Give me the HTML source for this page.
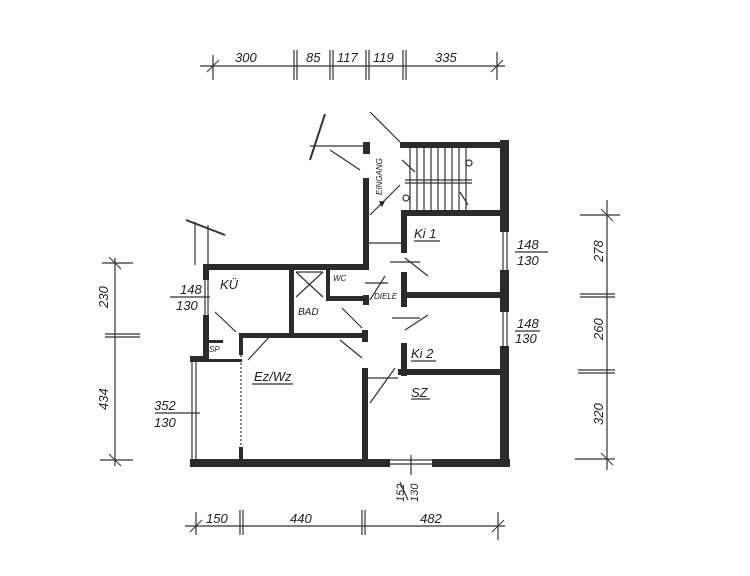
<!DOCTYPE html>
<html><head><meta charset="utf-8"><style>
html,body{margin:0;padding:0;background:#fff;}
svg{display:block;}
text{font-family:"Liberation Sans",sans-serif;font-style:italic;fill:#222;}
</style></head><body>
<svg width="750" height="576" viewBox="0 0 750 576" xmlns="http://www.w3.org/2000/svg">
<g fill="#2b2b2b">
<rect x="190" y="459" width="200" height="8"/>
<rect x="432" y="459" width="78" height="8"/>
<rect x="500" y="140" width="9" height="92"/>
<rect x="500" y="270" width="9" height="42"/>
<rect x="500" y="346" width="9" height="121"/>
<rect x="400" y="142" width="105" height="6"/>
<rect x="363" y="142" width="7" height="12"/>
<rect x="363" y="178" width="6" height="92"/>
<rect x="363" y="295" width="6" height="10"/>
<rect x="362" y="330" width="6" height="12"/>
<rect x="362" y="368" width="6" height="98"/>
<rect x="401" y="210" width="100" height="6"/>
<rect x="401" y="213" width="6" height="40"/>
<rect x="401" y="272" width="6" height="35"/>
<rect x="401" y="343" width="6" height="33"/>
<rect x="404" y="292" width="97" height="6"/>
<rect x="398" y="369" width="103" height="6"/>
<rect x="205" y="264" width="162" height="6"/>
<rect x="203" y="264" width="6" height="16"/>
<rect x="203" y="315" width="6" height="47"/>
<rect x="190" y="356" width="19" height="6"/>
<rect x="289" y="267" width="5" height="70"/>
<rect x="326" y="267" width="4" height="34"/>
<rect x="326" y="296" width="41" height="5"/>
<rect x="239" y="333" width="128" height="5"/>
<rect x="239" y="333" width="4" height="22"/>
<rect x="239" y="447" width="4" height="14"/>
<rect x="209" y="340" width="14" height="3"/>
<rect x="207" y="359" width="35" height="3"/>
</g>
<g stroke="#333" stroke-width="1.2" fill="none">
<line x1="503" y1="232" x2="503" y2="270"/><line x1="507" y1="232" x2="507" y2="270"/>
<line x1="503" y1="312" x2="503" y2="346"/><line x1="507" y1="312" x2="507" y2="346"/>
<line x1="205" y1="280" x2="205" y2="315"/><line x1="208" y1="280" x2="208" y2="315"/>
<line x1="192" y1="362" x2="192" y2="460"/><line x1="196" y1="362" x2="196" y2="460"/>
<line x1="390" y1="460" x2="432" y2="460"/><line x1="390" y1="464" x2="432" y2="464"/>
<line x1="411" y1="455" x2="411" y2="475"/>
<line x1="241" y1="355" x2="241" y2="447" stroke-dasharray="2 2"/>
<line x1="405" y1="180" x2="472" y2="180"/>
<line x1="405" y1="183" x2="472" y2="183"/>
<g>
<line x1="410" y1="148" x2="410" y2="210"/><line x1="417" y1="148" x2="417" y2="210"/>
<line x1="424" y1="148" x2="424" y2="210"/><line x1="431" y1="148" x2="431" y2="210"/>
<line x1="438" y1="148" x2="438" y2="210"/><line x1="445" y1="148" x2="445" y2="210"/>
<line x1="452" y1="148" x2="452" y2="210"/><line x1="459" y1="148" x2="459" y2="210"/>
<line x1="466" y1="148" x2="466" y2="210"/>
</g>
<circle cx="469" cy="163" r="3"/><circle cx="406" cy="198" r="3"/>
<line x1="402" y1="160" x2="415" y2="172"/><line x1="460" y1="192" x2="468" y2="205"/>
<line x1="296" y1="272" x2="323" y2="297"/><line x1="323" y1="272" x2="296" y2="297"/>
<line x1="296" y1="272" x2="323" y2="272"/>
<line x1="370" y1="215" x2="400" y2="185"/>
<line x1="366" y1="243" x2="401" y2="243"/>
<line x1="405" y1="258" x2="428" y2="276"/><line x1="390" y1="262" x2="420" y2="262"/>
<line x1="370" y1="300" x2="385" y2="276"/><line x1="365" y1="283" x2="388" y2="283"/>
<line x1="405" y1="330" x2="428" y2="315"/><line x1="392" y1="318" x2="420" y2="318"/>
<line x1="370" y1="403" x2="395" y2="368"/><line x1="368" y1="378" x2="398" y2="378"/>
<line x1="342" y1="308" x2="362" y2="328"/><line x1="340" y1="340" x2="362" y2="358"/>
<line x1="215" y1="312" x2="236" y2="332"/><line x1="248" y1="360" x2="272" y2="334"/>
<line x1="330" y1="150" x2="360" y2="170"/><line x1="310" y1="146" x2="365" y2="146"/>
<line x1="370" y1="112" x2="400" y2="142"/><line x1="325" y1="114" x2="310" y2="160" stroke-width="2"/>
<line x1="186" y1="220" x2="225" y2="235" stroke-width="2"/>
<line x1="195" y1="222" x2="195" y2="265"/><line x1="208" y1="225" x2="208" y2="265"/>
<line x1="200" y1="66" x2="505" y2="66"/>
<line x1="213" y1="55" x2="213" y2="80"/><line x1="294" y1="50" x2="294" y2="80"/><line x1="297" y1="50" x2="297" y2="80"/>
<line x1="330" y1="50" x2="330" y2="80"/><line x1="333" y1="50" x2="333" y2="80"/>
<line x1="366" y1="50" x2="366" y2="80"/><line x1="369" y1="50" x2="369" y2="80"/>
<line x1="403" y1="50" x2="403" y2="80"/><line x1="406" y1="50" x2="406" y2="80"/>
<line x1="497" y1="52" x2="497" y2="80"/>
<line x1="185" y1="526" x2="505" y2="526"/>
<line x1="196" y1="512" x2="196" y2="535"/><line x1="240" y1="510" x2="240" y2="535"/><line x1="243" y1="510" x2="243" y2="535"/>
<line x1="362" y1="510" x2="362" y2="535"/><line x1="365" y1="510" x2="365" y2="535"/><line x1="498" y1="512" x2="498" y2="540"/>
<line x1="115" y1="258" x2="115" y2="466"/>
<line x1="102" y1="263" x2="133" y2="263"/><line x1="105" y1="334" x2="140" y2="334"/><line x1="105" y1="337" x2="140" y2="337"/><line x1="100" y1="460" x2="133" y2="460"/>
<line x1="607" y1="200" x2="607" y2="470"/>
<line x1="580" y1="215" x2="620" y2="215"/><line x1="580" y1="294" x2="615" y2="294"/><line x1="580" y1="297" x2="615" y2="297"/>
<line x1="578" y1="370" x2="615" y2="370"/><line x1="578" y1="373" x2="615" y2="373"/><line x1="575" y1="459" x2="615" y2="459"/>
<line x1="515" y1="252" x2="548" y2="252"/><line x1="515" y1="331" x2="540" y2="331"/>
<line x1="170" y1="297" x2="210" y2="297"/><line x1="155" y1="413" x2="200" y2="413"/>
<line x1="400" y1="482" x2="408" y2="500"/>
<line x1="414" y1="241" x2="440" y2="241"/><line x1="411" y1="361" x2="436" y2="361"/>
<line x1="252" y1="384" x2="293" y2="384"/><line x1="411" y1="399" x2="430" y2="399"/>
</g>
<g stroke="#333" stroke-width="1">
<line x1="207" y1="72" x2="219" y2="60"/><line x1="491" y1="72" x2="503" y2="60"/>
<line x1="190" y1="532" x2="202" y2="520"/><line x1="492" y1="532" x2="504" y2="520"/>
<line x1="109" y1="257" x2="121" y2="269"/><line x1="109" y1="454" x2="121" y2="466"/>
<line x1="601" y1="209" x2="613" y2="221"/><line x1="601" y1="453" x2="613" y2="465"/>
</g>
<g font-size="13">
<text x="235" y="62">300</text><text x="306" y="62">85</text><text x="337" y="62">117</text>
<text x="373" y="62">119</text><text x="435" y="62">335</text>
<text x="206" y="523">150</text><text x="290" y="523">440</text><text x="420" y="523">482</text>
<text x="180" y="294">148</text><text x="176" y="310">130</text>
<text x="154" y="410">352</text><text x="154" y="427">130</text>
<text x="517" y="249">148</text><text x="517" y="265">130</text>
<text x="517" y="328">148</text><text x="515" y="343">130</text>
<text transform="translate(108,308) rotate(-90)">230</text>
<text transform="translate(108,410) rotate(-90)">434</text>
<text transform="translate(603,262) rotate(-90)">278</text>
<text transform="translate(603,340) rotate(-90)">260</text>
<text transform="translate(603,425) rotate(-90)">320</text>
<text transform="translate(404,502) rotate(-90)" font-size="11">152</text>
<text transform="translate(418,502) rotate(-90)" font-size="11">130</text>
<text x="220" y="289">KÜ</text><text x="298" y="315" font-size="10">BAD</text>
<text x="333" y="281" font-size="8">WC</text><text x="374" y="299" font-size="8">DIELE</text>
<text x="414" y="238">Ki 1</text><text x="411" y="358">Ki 2</text>
<text x="254" y="381">Ez/Wz</text><text x="411" y="397">SZ</text>
<text x="209" y="352" font-size="8">SP</text>
<text transform="translate(382,195) rotate(-90)" font-size="8">EINGANG</text>
<text x="377" y="207" font-size="10">▼</text>
</g>
</svg>
</body></html>
